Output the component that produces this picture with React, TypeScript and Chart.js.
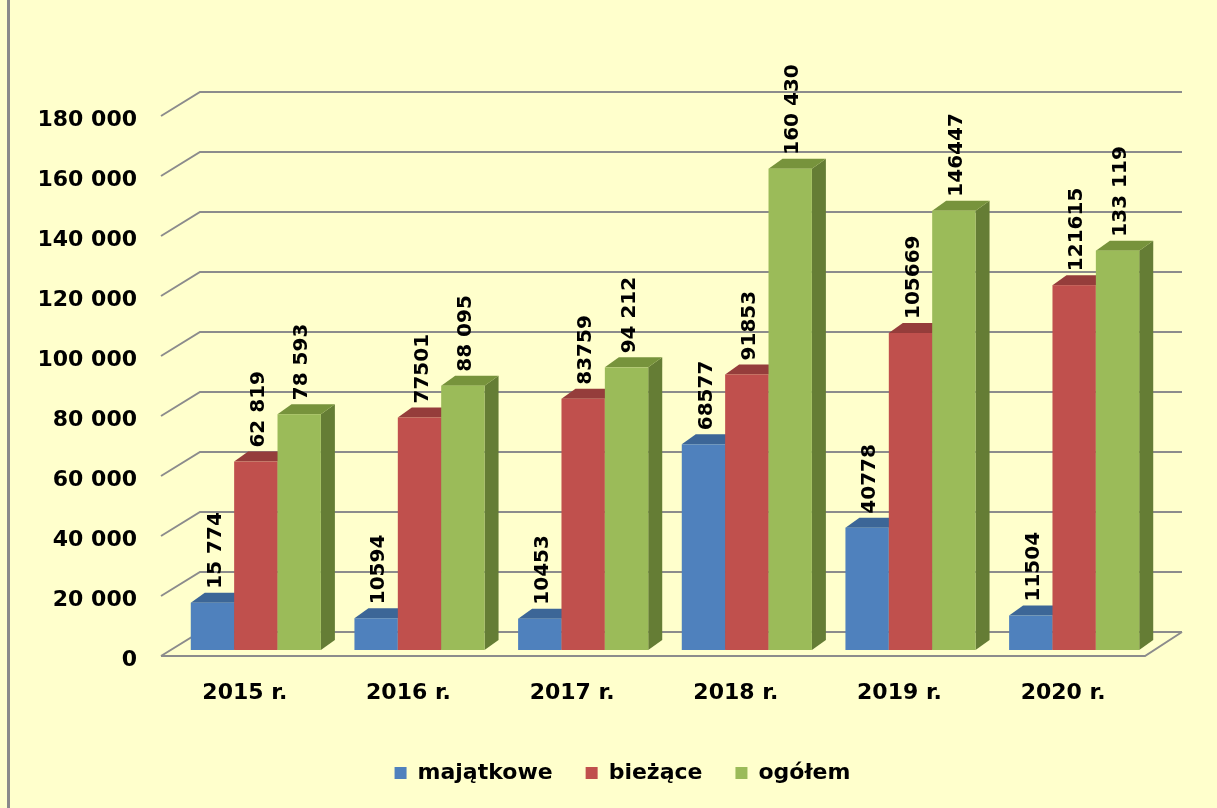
import React, { useEffect, useRef } from 'react';
import { Chart, registerables } from 'chart.js';

Chart.register(...registerables);

const categories = ['2015 r.', '2016 r.', '2017 r.', '2018 r.', '2019 r.', '2020 r.'];
const majatkowe = [15774, 10594, 10453, 68577, 40778, 11504];
const biezace = [62819, 77501, 83759, 91853, 105669, 121615];
const ogolem = [78593, 88095, 94212, 160430, 146447, 133119];
const majatkoweLabels = ['15 774', '10594', '10453', '68577', '40778', '11504'];
const biezaceLabels = ['62 819', '77501', '83759', '91853', '105669', '121615'];
const ogolemLabels = ['78 593', '88 095', '94 212', '160 430', '146447', '133 119'];
const seriesNames = ['majątkowe', 'bieżące', 'ogółem'];
const yMax = 180000;
const yStep = 20000;

const FONT = '"DejaVu Sans", sans-serif';
const seriesLabels = [majatkoweLabels, biezaceLabels, ogolemLabels];
const faceColors = [
  { front: '#4F81BD', top: '#3C6697', side: '#385D8A' },
  { front: '#C0504D', top: '#953D3B', side: '#8C3836' },
  { front: '#9BBB59', top: '#77933C', side: '#657D35' },
];

const fmt = (v: number) => String(v).replace(/\B(?=(\d{3})+(?!\d))/g, ' ');

const threeD = {
  id: 'threeD',
  beforeDraw(chart: any) {
    const { ctx, width, height } = chart;
    ctx.save();
    ctx.fillStyle = '#FFFFCC';
    ctx.fillRect(0, 0, width, height);
    ctx.fillStyle = '#8A8A8A';
    ctx.fillRect(7, 0, 3, height);
    ctx.restore();
  },
  beforeDatasetsDraw(chart: any) {
    const { ctx, chartArea, scales } = chart;
    const y = scales.y;
    const L = chartArea.left - 13;
    const R = chartArea.right - 11;
    ctx.save();
    ctx.strokeStyle = '#8C8C8C';
    ctx.lineWidth = 2;
    for (const t of y.ticks) {
      const fy = y.getPixelForValue(t.value) + 6;
      ctx.beginPath();
      ctx.moveTo(L, fy);
      ctx.lineTo(L + 39, fy - 24);
      ctx.lineTo(R + 37, fy - 24);
      ctx.stroke();
    }
    const f0 = y.getPixelForValue(0) + 6;
    ctx.beginPath();
    ctx.moveTo(L, f0);
    ctx.lineTo(R, f0);
    ctx.lineTo(R + 37, f0 - 24);
    ctx.stroke();
    ctx.restore();
  },
  beforeDatasetDraw() {
    return false;
  },
  afterDatasetsDraw(chart: any) {
    const { ctx } = chart;
    const dx = 14, dy = 10;
    const n = chart.data.labels.length;
    ctx.save();
    for (let j = 0; j < n; j++) {
      for (let i = 0; i < chart.data.datasets.length; i++) {
        const el: any = chart.getDatasetMeta(i).data[j];
        const w = el.width;
        const x0 = el.x - w / 2, x1 = el.x + w / 2;
        const top = el.y, base = el.base;
        const c = faceColors[i];
        ctx.fillStyle = c.side;
        ctx.beginPath();
        ctx.moveTo(x1, top);
        ctx.lineTo(x1 + dx, top - dy);
        ctx.lineTo(x1 + dx, base - dy);
        ctx.lineTo(x1, base);
        ctx.closePath();
        ctx.fill();
        ctx.fillStyle = c.top;
        ctx.beginPath();
        ctx.moveTo(x0, top);
        ctx.lineTo(x1, top);
        ctx.lineTo(x1 + dx, top - dy);
        ctx.lineTo(x0 + dx, top - dy);
        ctx.closePath();
        ctx.fill();
        ctx.fillStyle = c.front;
        ctx.fillRect(x0, top, w, base - top);
      }
    }
    ctx.fillStyle = '#000';
    ctx.font = 'bold 20px ' + FONT;
    ctx.textAlign = 'left';
    ctx.textBaseline = 'middle';
    for (let i = 0; i < chart.data.datasets.length; i++) {
      chart.getDatasetMeta(i).data.forEach((el: any, j: number) => {
        ctx.save();
        ctx.translate(el.x + 3, el.y - 14);
        ctx.rotate(-Math.PI / 2);
        ctx.fillText(seriesLabels[i][j], 0, 0);
        ctx.restore();
      });
    }
    ctx.restore();
  },
};

export default function App() {
  const ref = useRef<HTMLCanvasElement>(null);
  useEffect(() => {
    document.body.style.margin = '0';
    const chart = new Chart(ref.current as HTMLCanvasElement, {
      type: 'bar',
      data: {
        labels: categories,
        datasets: [majatkowe, biezace, ogolem].map((d, i) => ({
          label: seriesNames[i],
          data: d,
          backgroundColor: faceColors[i].front,
          borderWidth: 0,
          barPercentage: 1,
          categoryPercentage: 0.795,
        })),
      },
      options: {
        responsive: false,
        animation: false,
        layout: { padding: { top: 110, left: 28, right: 0, bottom: 14 } },
        plugins: {
          tooltip: { enabled: false },
          legend: {
            position: 'bottom',
            labels: {
              boxWidth: 12,
              boxHeight: 12,
              padding: 33,
              color: '#000',
              font: { family: FONT, size: 22, weight: 'bold' },
            },
          },
        },
        scales: {
          x: {
            grid: { display: false },
            border: { display: false },
            ticks: {
              labelOffset: -11,
              padding: 22,
              color: '#000',
              font: { family: FONT, size: 22, weight: 'bold' },
            },
            afterFit: (s: any) => { s.height = 79; },
          },
          y: {
            min: 0,
            max: yMax,
            grid: { display: false },
            border: { display: false },
            ticks: {
              stepSize: yStep,
              labelOffset: 10,
              padding: 29,
              color: '#000',
              font: { family: FONT, size: 22, weight: 'bold' },
              callback: (v: any) => fmt(Number(v)),
            },
            afterFit: (s: any) => { s.width = 146; },
          },
          y2: {
            position: 'right',
            display: true,
            grid: { display: false },
            border: { display: false },
            ticks: { display: false },
            afterFit: (s: any) => { s.width = 61; },
          },
        },
      },
      plugins: [threeD],
    } as any);
    return () => chart.destroy();
  }, []);
  return (
    <div style={{ position: 'absolute', left: 0, top: 0, width: 1217, height: 808, overflow: 'hidden' }}>
      <canvas ref={ref} width={1217} height={808} style={{ display: 'block', width: 1217, height: 808 }} />
    </div>
  );
}
